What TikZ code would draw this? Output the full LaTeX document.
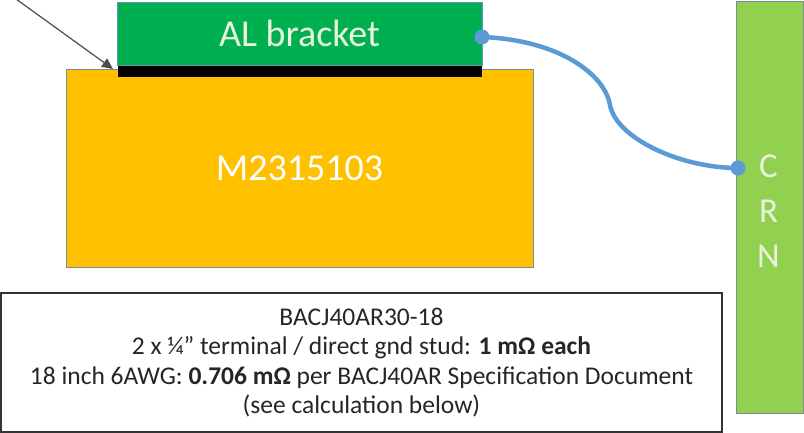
\documentclass[tikz,border=0pt]{standalone}
\usepackage{fontspec}
\setmainfont{Carlito}
\usetikzlibrary{arrows.meta}
\definecolor{brgreen}{HTML}{00B050}
\definecolor{crngreen}{HTML}{92D050}
\definecolor{partorange}{HTML}{FFC000}
\definecolor{cableblue}{HTML}{5B9BD5}
\definecolor{paletext}{HTML}{E8F3DE}
\definecolor{edgegray}{HTML}{7A8C9C}
\tikzset{
  block/.style={rectangle, inner sep=0pt, line width=1pt},
  cable/.style={draw=cableblue, line width=4.5pt, line cap=round},
  cableend/.style={circle, fill=cableblue, minimum size=15pt, inner sep=0pt},
}
\begin{document}
\begin{tikzpicture}[x=1pt, y=-1pt]
\useasboundingbox (0,0) rectangle (804,433);

% part body
\node[block, draw=edgegray, fill=partorange, minimum width=467pt, minimum height=197pt,
      font=\fontsize{38}{40}\selectfont, text=white] (part) at (299.5,168.5) {M2315103};

% bonding surface under the bracket
\node[block, fill=black, minimum width=364pt, minimum height=12pt] (strip) at (299.5,71) {};

% aluminium bracket
\node[block, draw=cableblue!70!gray, line width=0.6pt, fill=brgreen, minimum width=365pt, minimum height=63pt,
      font=\fontsize{38}{40}\selectfont, text=paletext] (bracket) at (299.5,33.5) {AL bracket};

% current return network bar
\node[block, draw=edgegray, fill=crngreen, minimum width=67pt, minimum height=411pt] (crn) at (769.5,207.5) {};
\node[font=\fontsize{35}{45}\selectfont, text=paletext, align=center, inner sep=0pt] (crnlabel) at (768.5,211)
  {C\\R\\N};

% bonding jumper
\coordinate (jstart) at (482,37);
\coordinate (jend) at (738,168);
\draw[cable] (jstart) .. controls (560,40) and (605,75) .. (610,105)
                      .. controls (616,138) and (680,168) .. (jend);
\node[cableend] (endA) at (jstart) {};
\node[cableend] (endB) at (jend) {};

% pointer to the bonding surface
\coordinate (ptail) at (16,-1);
\coordinate (ptip) at (113,69);
\draw[draw=black!70, line width=1.2pt, -{Triangle[length=11pt,width=10pt]}] (ptail) -- (ptip);

% note
\node[block, draw=black!80, line width=1.3pt, fill=white, minimum width=721pt, minimum height=139pt,
      align=center, font=\fontsize{25.5}{29.5}\selectfont, text=black!85] (note) at (361.5,362.5)
  {BACJ40AR30-18\\
   2 x ¼” terminal / direct gnd stud: \textbf{1 mΩ each}\\
   18 inch 6AWG: \textbf{0.706 mΩ} per BACJ40AR Specification Document\\
   (see calculation below)};
\end{tikzpicture}
\end{document}
